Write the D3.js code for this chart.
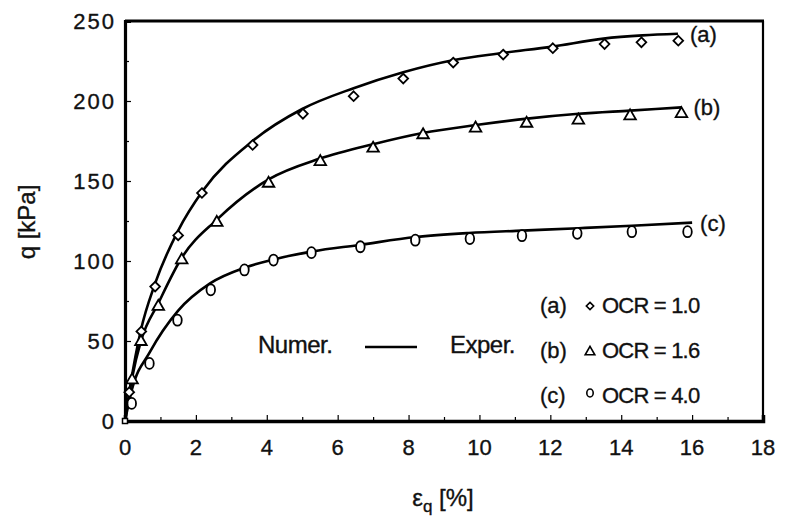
<!DOCTYPE html>
<html>
<head>
<meta charset="utf-8">
<script src="https://cdn.jsdelivr.net/npm/d3@7"></script>
<style>
  html, body { margin: 0; padding: 0; background: #fff; }
  svg text { font-family: "Liberation Sans", Arial, Helvetica, sans-serif; fill: #111; stroke: #111; stroke-width: 0.35px; }
</style>
</head>
<body>
<svg id="chart" width="785" height="522"></svg>
<script>
// Deviatoric stress q versus deviatoric strain εq for three OCR values

// Axis ticks
const xTicks = [0, 2, 4, 6, 8, 10, 12, 14, 16, 18];
const yTicks = [0, 50, 100, 150, 200, 250];

// Numerical curves (strain %, q kPa)
const numA_e = [0, 0.15, 0.45, 0.85, 1.5, 2.2, 3.6, 5.0, 6.45, 7.85, 9.25, 10.65, 12.05, 13.5, 14.6, 15.6];
const numA_q = [0, 22, 57, 86, 119, 144, 175, 195, 208, 218, 225.5, 230, 234, 239, 241, 242];
const numB_e = [0, 0.2, 0.45, 0.95, 1.6, 2.6, 4.05, 5.5, 7.0, 8.4, 9.9, 11.35, 12.8, 14.25, 15.7];
const numB_q = [0, 27, 50, 74, 102, 126, 151, 164, 173, 180, 185, 189, 192, 194, 196];
const numC_e = [0, 0.2, 0.7, 1.5, 2.4, 3.4, 4.2, 5.3, 6.6, 8.2, 9.7, 11.2, 12.8, 14.3, 16.0];
const numC_q = [0, 20, 43, 69, 86, 96, 101, 106, 110, 115, 117.5, 119, 120.5, 122, 124];

// Experimental points
const expA_e = [0.12, 0.46, 0.85, 1.5, 2.17, 3.6, 5.02, 6.45, 7.85, 9.26, 10.67, 12.07, 13.53, 14.57, 15.61];
const expA_q = [18, 56, 84, 116, 142.5, 172.5, 192, 203, 214, 224, 229, 233, 235.6, 236.7, 237.7];
const expB_e = [0.2, 0.45, 0.94, 1.6, 2.59, 4.05, 5.51, 7.0, 8.41, 9.89, 11.33, 12.79, 14.25, 15.7];
const expB_q = [25.6, 49.6, 71.5, 100.6, 124, 148.5, 162, 170.4, 178.8, 183, 186, 188, 190.6, 192];
const expC_e = [0.19, 0.69, 1.48, 2.42, 3.37, 4.19, 5.26, 6.64, 8.19, 9.73, 11.2, 12.76, 14.3, 15.87];
const expC_q = [11, 36, 63, 82, 94.4, 100.6, 105.2, 108.9, 113, 114, 115.8, 117.3, 118.3, 118.3];

const curveLabels = ["(a)", "(b)", "(c)"];
const legendLabels = ["(a)", "(b)", "(c)"];
const legendText = ["OCR = 1.0", "OCR = 1.6", "OCR = 4.0"];

const svg = d3.select("#chart");
const plotLeft = 125, plotRight = 763, plotTop = 21, plotBottom = 421;

const x = d3.scaleLinear().domain([0, 18]).range([plotLeft, plotRight]);
const y = d3.scaleLinear().domain([0, 250]).range([plotBottom, plotTop]);

const zip = (a, b) => a.map((v, i) => [v, b[i]]);

// Frame
svg.append("line").attr("x1", plotLeft).attr("x2", plotRight + 1).attr("y1", plotTop).attr("y2", plotTop)
  .attr("stroke", "#000").attr("stroke-width", 3.2);
svg.append("line").attr("x1", plotRight).attr("x2", plotRight).attr("y1", plotTop).attr("y2", plotBottom)
  .attr("stroke", "#000").attr("stroke-width", 2.2);

// Axes with inward ticks
const xAxis = d3.axisBottom(x).tickValues(d3.range(0, 19, 1)).tickSize(-6).tickFormat("");
const gx = svg.append("g").attr("transform", `translate(0,${plotBottom})`).call(xAxis);
gx.selectAll(".tick line").attr("y2", d => d % 2 === 0 ? -6 : -4).attr("stroke-width", 1.2);
gx.select(".domain").attr("stroke-width", 3.5);

const yAxis = d3.axisLeft(y).tickValues(d3.range(0, 251, 25)).tickSize(-6).tickFormat("");
const gy = svg.append("g").attr("transform", `translate(${plotLeft},0)`).call(yAxis);
gy.selectAll(".tick line").attr("x2", d => d % 50 === 0 ? 6 : 4).attr("stroke-width", 1.2);
gy.select(".domain").attr("stroke-width", 3.2);

// Tick labels
svg.append("g").selectAll("text").data(xTicks).join("text")
  .attr("x", d => x(d)).attr("y", 455)
  .attr("text-anchor", "middle").attr("font-size", 22)
  .text(d => d);
svg.append("g").selectAll("text").data(yTicks).join("text")
  .attr("x", 116).attr("y", d => y(d) + 8)
  .attr("text-anchor", "end").attr("font-size", 22).attr("letter-spacing", 2)
  .text(d => d);

// Axis titles
svg.append("text").attr("transform", "translate(35,222) rotate(-90)")
  .attr("text-anchor", "middle").attr("font-size", 24).text("q [kPa]");
const xt = svg.append("text").attr("x", 443).attr("y", 506).attr("text-anchor", "middle").attr("font-size", 24);
xt.append("tspan").text("ε");
xt.append("tspan").attr("font-size", 17).attr("dy", 6).text("q");
xt.append("tspan").attr("dy", -6).text(" [%]");

// Numerical curves
const line = d3.line().x(d => x(d[0])).y(d => y(d[1])).curve(d3.curveMonotoneX);
const curves = [zip(numA_e, numA_q), zip(numB_e, numB_q), zip(numC_e, numC_q)];
svg.append("g").selectAll("path").data(curves).join("path")
  .attr("d", line).attr("fill", "none").attr("stroke", "#000").attr("stroke-width", 2.6);

// Experimental markers
const symDiamond = d3.symbol().type(d3.symbolDiamond2).size(60);
const symTriangle = d3.symbol().type(d3.symbolTriangle).size(58);
const expSets = [
  { pts: zip(expA_e, expA_q), sym: symDiamond, circle: false },
  { pts: zip(expB_e, expB_q), sym: symTriangle, circle: false },
  { pts: zip(expC_e, expC_q), sym: null, circle: true }
];
expSets.forEach(s => {
  const g = svg.append("g");
  if (s.circle) {
    g.selectAll("ellipse").data(s.pts).join("ellipse")
      .attr("cx", d => x(d[0])).attr("cy", d => y(d[1]))
      .attr("rx", 4.3).attr("ry", 5.5)
      .attr("fill", "#fff").attr("stroke", "#000").attr("stroke-width", 1.8);
  } else {
    g.selectAll("path").data(s.pts).join("path")
      .attr("transform", d => `translate(${x(d[0])},${y(d[1])})`)
      .attr("d", s.sym())
      .attr("fill", "#fff").attr("stroke", "#000").attr("stroke-width", 1.8);
  }
});
// Shared starting point at the origin
svg.append("rect").attr("x", x(0) - 2.5).attr("y", y(0) - 2.5).attr("width", 5).attr("height", 5)
  .attr("fill", "#fff").attr("stroke", "#000").attr("stroke-width", 1.5);

// Curve end labels
const endPts = [
  [numA_e[numA_e.length - 1], numA_q[numA_q.length - 1]],
  [numB_e[numB_e.length - 1], numB_q[numB_q.length - 1]],
  [numC_e[numC_e.length - 1], numC_q[numC_q.length - 1]]
];
svg.append("g").selectAll("text").data(curveLabels).join("text")
  .attr("x", (d, i) => x(endPts[i][0]) + (i === 2 ? 8 : 12))
  .attr("y", (d, i) => y(endPts[i][1]) + 8)
  .attr("font-size", 22).text(d => d);

// Legend: line style
svg.append("text").attr("x", 258).attr("y", 353).attr("font-size", 24).attr("letter-spacing", -0.5).text("Numer.");
svg.append("line").attr("x1", 365).attr("x2", 417).attr("y1", 347).attr("y2", 347)
  .attr("stroke", "#000").attr("stroke-width", 2.4);
svg.append("text").attr("x", 450).attr("y", 353).attr("font-size", 24).attr("letter-spacing", -0.5).text("Exper.");

// Legend: markers per OCR
const rowY = [313, 358, 403];
svg.append("g").selectAll("text").data(legendLabels).join("text")
  .attr("x", 540).attr("y", (d, i) => rowY[i]).attr("font-size", 22).text(d => d);
svg.append("g").selectAll("text").data(legendText).join("text")
  .attr("x", 602).attr("y", (d, i) => rowY[i]).attr("font-size", 22).attr("letter-spacing", -0.8).text(d => d);
svg.append("path").attr("transform", `translate(590,${rowY[0] - 7})`)
  .attr("d", d3.symbol().type(d3.symbolDiamond2).size(34)()).attr("fill", "#fff").attr("stroke", "#000").attr("stroke-width", 1.6);
svg.append("path").attr("transform", `translate(590,${rowY[1] - 6})`)
  .attr("d", d3.symbol().type(d3.symbolTriangle).size(40)()).attr("fill", "#fff").attr("stroke", "#000").attr("stroke-width", 1.6);
svg.append("ellipse").attr("cx", 590).attr("cy", rowY[2] - 10).attr("rx", 3.2).attr("ry", 4)
  .attr("fill", "#fff").attr("stroke", "#000").attr("stroke-width", 1.6);
</script>
</body>
</html>
